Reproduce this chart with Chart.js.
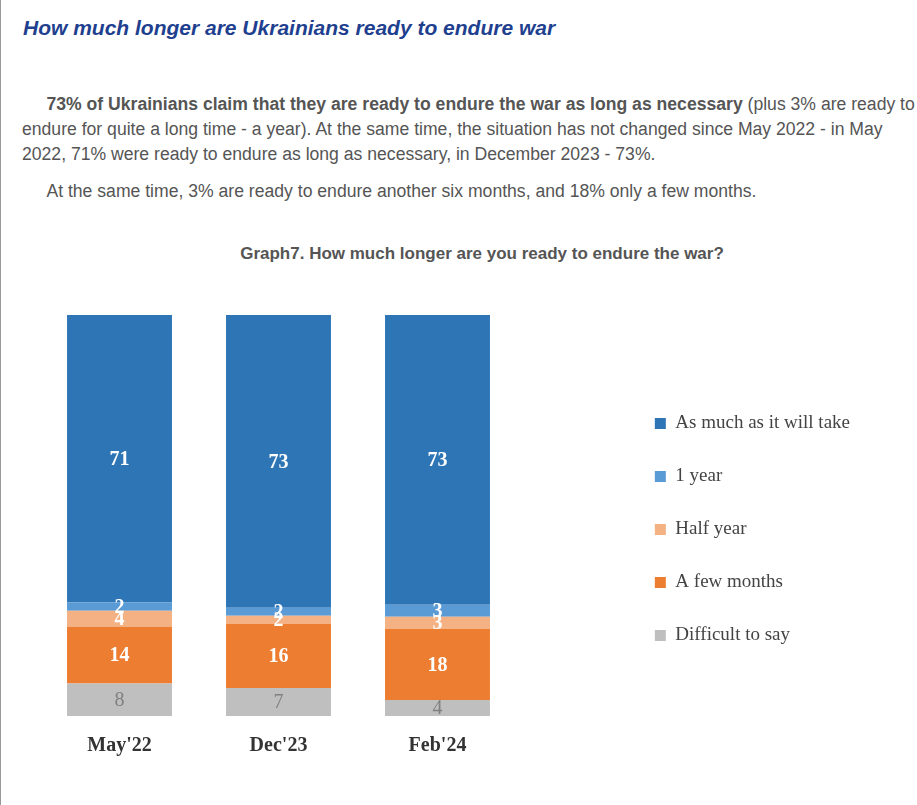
<!DOCTYPE html>
<html><head><meta charset="utf-8">
<script src="https://cdn.jsdelivr.net/npm/chart.js@4/dist/chart.umd.min.js"></script>
<style>
body{margin:0;width:917px;height:805px;background:#fff;font-family:Arial,"Liberation Sans",sans-serif;position:relative;overflow:hidden}
#lb{position:absolute;left:0;top:0;width:1px;height:805px;background:#999}
h1{position:absolute;left:23px;top:16px;margin:0;font-size:21px;font-style:italic;font-weight:bold;color:#1F3F8F}
.p{position:absolute;left:22px;width:895px;font-size:17.6px;line-height:25px;color:#555}
.p b{color:#555}
#ct{position:absolute;left:0;width:964px;text-align:center;top:244px;font-size:17px;font-weight:bold;color:#555}
#wrap{position:absolute;left:0;top:298px;width:880px;height:470px}
</style></head><body>
<div id="lb"></div>
<h1>How much longer are Ukrainians ready to endure war</h1>
<div class="p" style="top:92px">&nbsp;&nbsp;&nbsp;&nbsp;&nbsp;<b>73% of Ukrainians claim that they are ready to endure the war as long as necessary</b> (plus 3% are ready to endure for quite a long time - a year). At the same time, the situation has not changed since May 2022 - in May 2022, 71% were ready to endure as long as necessary, in December 2023 - 73%.</div>
<div class="p" style="top:179px">&nbsp;&nbsp;&nbsp;&nbsp;&nbsp;At the same time, 3% are ready to endure another six months, and 18% only a few months.</div>
<div id="ct">Graph7. How much longer are you ready to endure the war?</div>
<div id="wrap"><canvas id="c"></canvas></div>
<script>
const categories=["May'22","Dec'23","Feb'24"];
const seriesNames=["Difficult to say","A few months","Half year","1 year","As much as it will take"];
const difficult=[8,7,4];
const fewMonths=[14,16,18];
const halfYear=[4,2,3];
const oneYear=[2,2,3];
const asMuch=[71,73,73];
const colors=["#BFBFBF","#ED7D31","#F4B183","#5B9BD5","#2E75B6"];
const labelColors=["#808080","#fff","#fff","#fff","#fff"];
const raw=[difficult,fewMonths,halfYear,oneYear,asMuch];
const totals=categories.map((_,i)=>raw.reduce((s,a)=>s+a[i],0));
const datasets=raw.map((a,k)=>({label:seriesNames[k],data:a.map((v,i)=>v/totals[i]*100),raw:a,backgroundColor:colors[k],barPercentage:0.66,categoryPercentage:1}));
const lbl={id:'lbl',afterDatasetsDraw(ch){const ctx=ch.ctx;ctx.save();ctx.textAlign='center';ctx.textBaseline='middle';
ch.data.datasets.forEach((ds,k)=>{ch.getDatasetMeta(k).data.forEach((el,i)=>{const y=(el.y+el.base)/2;
ctx.font=(k==0?'':'bold ')+'20px "Liberation Serif","Times New Roman",serif';ctx.fillStyle=labelColors[k];ctx.fillText(ds.raw[i],el.x,y+1);});});ctx.restore();}};
const EXTRA=0;
const lw={id:'lw',beforeInit(ch){const L=ch.legend;const f=L.fit;L.fit=function(){f.call(L);const need=880-40-477-20-this.width;ch.$extra=Math.max(0,need);this.width+=ch.$extra;};},
afterLayout(ch){ch.legend.left+=ch.$extra;ch.legend.top-=12;ch.legend.bottom-=12;}};
new Chart(document.getElementById('c'),{type:'bar',data:{labels:categories,datasets},plugins:[lbl,lw],
options:{responsive:true,maintainAspectRatio:false,animation:false,
layout:{padding:{left:40,right:20,top:17,bottom:0}},
scales:{x:{stacked:true,grid:{display:false},border:{display:false},ticks:{color:'#333',padding:10,font:{family:'"Liberation Serif",serif',size:20,weight:'bold'}}},
y:{stacked:true,display:false,min:0,max:100}},
plugins:{tooltip:{enabled:false},legend:{position:'right',reverse:true,align:'center',
labels:{boxWidth:11,boxHeight:11,padding:34,color:'#444',font:{family:'"Liberation Serif",serif',size:19}}}}}});
</script></body></html>
